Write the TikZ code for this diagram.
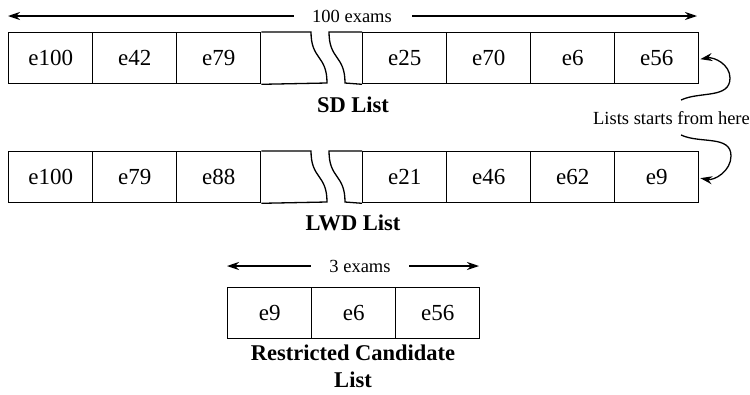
\documentclass[tikz,border=0pt]{standalone}
\usepackage{fontspec}
\setmainfont{Liberation Serif}
\usetikzlibrary{arrows.meta}
\begin{document}
\begin{tikzpicture}[x=1pt,y=-1pt,line width=1.3pt,
  cell/.style={draw,minimum width=84pt,minimum height=51pt,inner sep=0pt,anchor=north west,font=\fontsize{23}{27}\selectfont},
  lbl/.style={font=\bfseries\fontsize{22.5}{27}\selectfont,align=center,inner sep=0pt},
  small/.style={font=\fontsize{18.5}{22}\selectfont,inner sep=0pt},
  arr/.style={-{Stealth[length=12pt,width=8pt]}}]
\useasboundingbox (0,0) rectangle (750,394);
% ---- SD list
\node[cell] (a1) at (8,32) {e100};
\node[cell] (a2) at (92,32) {e42};
\node[cell] (a3) at (176,32) {e79};
\node[cell] (a5) at (362,32) {e25};
\node[cell] (a6) at (446,32) {e70};
\node[cell] (a7) at (530,32) {e6};
\node[cell] (a8) at (614,32) {e56};
\draw (a3.north east) -- (311,32) .. controls (311,60) and (327,55) .. (327,83) -- (a3.south east);
\draw (a5.north west) -- (329,32) .. controls (329,60) and (345,55) .. (345,83) -- (a5.south west);
\node[lbl,anchor=base] (sdl) at (353,112) {SD List};
% arrow 100 exams
\node[small] (n100) at (352,16) {100 exams};
\coordinate (l100) at (8,16);
\coordinate (r100) at (697,16);
\draw[arr] ([xshift=-18pt]n100.west) -- (l100);
\draw[arr] ([xshift=20pt]n100.east) -- (r100);
% ---- LWD list
\node[cell] (b1) at (8,151) {e100};
\node[cell] (b2) at (92,151) {e79};
\node[cell] (b3) at (176,151) {e88};
\node[cell] (b5) at (362,151) {e21};
\node[cell] (b6) at (446,151) {e46};
\node[cell] (b7) at (530,151) {e62};
\node[cell] (b8) at (614,151) {e9};
\draw (b3.north east) -- (311,151) .. controls (311,179) and (327,174) .. (327,202) -- (b3.south east);
\draw (b5.north west) -- (329,151) .. controls (329,179) and (345,174) .. (345,202) -- (b5.south west);
\node[lbl,anchor=base] (lwdl) at (353,230) {LWD List};
% ---- start label
\node[small] (start) at (671.5,118) {Lists starts from here};
\coordinate (s1) at (681,100);
\coordinate (s2) at (681,135);
\draw[arr] (s1) to[out=25,in=-90] (730,78) to[out=90,in=10] ([xshift=1pt,yshift=-1pt]a8.east);
\draw[arr] (s2) to[out=-25,in=90] (731,156) to[out=-90,in=-10] ([xshift=1pt,yshift=-1pt]b8.east);
% ---- restricted list
\node[cell] (c1) at (227,287) {e9};
\node[cell] (c2) at (311,287) {e6};
\node[cell] (c3) at (395,287) {e56};
\node[small] (n3) at (360,266) {3 exams};
\coordinate (l3) at (227,266);
\coordinate (r3) at (479,266);
\draw[arr] ([xshift=-18pt]n3.west) -- (l3);
\draw[arr] ([xshift=18pt]n3.east) -- (r3);
\node[lbl,anchor=base] (rcl) at (353,360) {Restricted Candidate};
\node[lbl,anchor=base] (rcl2) at (353,387) {List};
\end{tikzpicture}
\end{document}
